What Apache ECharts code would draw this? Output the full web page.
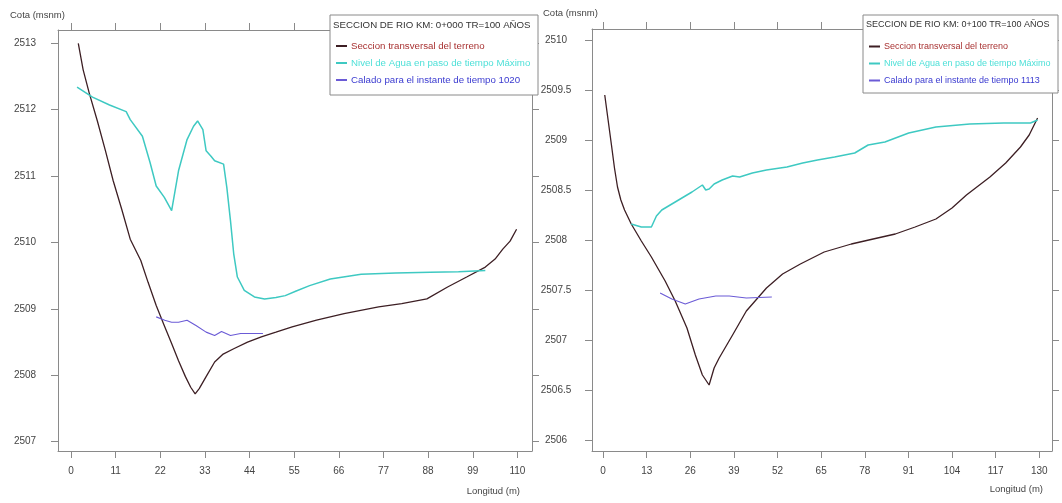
<!DOCTYPE html>
<html>
<head>
<meta charset="utf-8">
<script src="https://cdn.jsdelivr.net/npm/echarts@6/dist/echarts.min.js"></script>
<style>
  html, body { margin: 0; padding: 0; background: #ffffff; }
  #chart { width: 1062px; height: 503px; }
</style>
</head>
<body>
<div id="chart"></div>
<script>
// Tick values for both cross sections
const xTicksL = [0, 11, 22, 33, 44, 55, 66, 77, 88, 99, 110];
const yTicksL = [2507, 2508, 2509, 2510, 2511, 2512, 2513];
const xTicksR = [0, 13, 26, 39, 52, 65, 78, 91, 104, 117, 130];
const yTicksR = [2506, 2506.5, 2507, 2507.5, 2508, 2508.5, 2509, 2509.5, 2510];

// Section KM 0+000
const terrainLx = [1.8, 3.0, 4.5, 6.5, 8.5, 10.4, 12.5, 14.6, 17.2, 19.0, 21.0, 22.9, 24.8, 26.5, 28.2, 29.5, 30.6, 31.6, 33.3, 35.4, 37.5, 40.1, 43.5, 46.9, 50.5, 54.5, 60.5, 67.3, 75.8, 81.5, 87.7, 92.8, 97.5, 102.1, 104.5, 106.4, 108.2, 109.8];
const terrainLy = [2513.0, 2512.6, 2512.25, 2511.83, 2511.38, 2510.93, 2510.5, 2510.05, 2509.73, 2509.4, 2509.05, 2508.76, 2508.48, 2508.22, 2507.98, 2507.82, 2507.72, 2507.8, 2507.98, 2508.2, 2508.32, 2508.4, 2508.5, 2508.58, 2508.65, 2508.73, 2508.83, 2508.93, 2509.03, 2509.08, 2509.15, 2509.33, 2509.48, 2509.63, 2509.75, 2509.9, 2510.02, 2510.2];
const waterLx = [1.5, 5.3, 9.5, 13.6, 14.6, 17.6, 19.5, 21.0, 23.0, 24.8, 26.5, 28.6, 30.2, 31.2, 32.5, 33.3, 34.5, 35.4, 37.6, 38.4, 39.3, 40.1, 41.0, 42.7, 45.2, 47.7, 50.5, 52.8, 55.5, 58.8, 63.9, 71.5, 80.0, 88.5, 95.5, 102.1];
const waterLy = [2512.34, 2512.19, 2512.07, 2511.97, 2511.85, 2511.6, 2511.2, 2510.85, 2510.68, 2510.48, 2511.08, 2511.55, 2511.75, 2511.83, 2511.7, 2511.38, 2511.3, 2511.23, 2511.18, 2510.83, 2510.33, 2509.83, 2509.48, 2509.28, 2509.18, 2509.15, 2509.17, 2509.2, 2509.27, 2509.35, 2509.45, 2509.52, 2509.54, 2509.55, 2509.56, 2509.58];
const depthLx = [21.0, 23.1, 24.8, 26.5, 28.6, 30.8, 33.3, 35.4, 37.1, 39.3, 41.8, 44.3, 47.3];
const depthLy = [2508.88, 2508.83, 2508.8, 2508.8, 2508.83, 2508.75, 2508.65, 2508.6, 2508.66, 2508.6, 2508.63, 2508.63, 2508.63];

// Section KM 0+100
const terrainRx = [0.5, 1.5, 2.5, 3.4, 4.3, 5.3, 6.4, 8.4, 11.4, 14.4, 18.5, 21.5, 25.0, 27.5, 29.6, 31.6, 33.1, 34.6, 38.6, 42.7, 48.7, 53.5, 58.8, 65.9, 74.0, 80.5, 87.1, 93.0, 99.2, 104.0, 108.3, 115.3, 120.0, 124.4, 127.0, 129.5];
const terrainRy = [2509.45, 2509.2, 2508.95, 2508.72, 2508.53, 2508.4, 2508.3, 2508.16, 2507.99, 2507.83, 2507.59, 2507.39, 2507.12, 2506.85, 2506.65, 2506.55, 2506.72, 2506.82, 2507.05, 2507.29, 2507.52, 2507.66, 2507.76, 2507.88, 2507.96, 2508.01, 2508.06, 2508.13, 2508.21, 2508.32, 2508.45, 2508.63, 2508.77, 2508.93, 2509.05, 2509.22];
const waterRx = [8.4, 11.4, 14.4, 15.9, 17.5, 20.0, 22.5, 26.5, 29.6, 30.6, 31.6, 33.1, 35.5, 38.6, 40.7, 44.5, 48.7, 54.8, 59.5, 63.9, 69.0, 75.0, 79.0, 84.0, 91.1, 99.2, 109.3, 119.4, 127.4, 129.5];
const waterRy = [2508.16, 2508.13, 2508.13, 2508.24, 2508.3, 2508.35, 2508.4, 2508.48, 2508.55, 2508.5, 2508.51, 2508.56, 2508.6, 2508.64, 2508.63, 2508.67, 2508.7, 2508.73, 2508.77, 2508.8, 2508.83, 2508.87, 2508.95, 2508.98, 2509.07, 2509.13, 2509.16, 2509.17, 2509.17, 2509.2];
const depthRx = [17.0, 20.5, 24.5, 28.6, 33.6, 37.6, 42.7, 50.3];
const depthRy = [2507.47, 2507.41, 2507.36, 2507.41, 2507.44, 2507.44, 2507.42, 2507.43];

const NAME_TERRAIN = 'Seccion transversal del terreno';
const NAME_WATER = 'Nivel de Agua en paso de tiempo Máximo';
const NAME_DEPTH_L = 'Calado para el instante de tiempo 1020';
const NAME_DEPTH_R = 'Calado para el instante de tiempo 1113';
const TITLE_L = 'SECCION DE RIO KM: 0+000 TR=100 AÑOS';
const TITLE_R = 'SECCION DE RIO KM: 0+100 TR=100 AÑOS';

const C_TERRAIN = '#3d1f24';
const C_WATER = '#3ec9c2';
const C_DEPTH = '#6b5bd6';
const C_AXIS = '#8a8a8a';
const FONT = "'Liberation Sans', Arial, sans-serif";

const zip = (xs, ys) => xs.map((x, i) => [x, ys[i]]);
const plain = (v) => String(v);

function xAxes(gridIndex, ticks, min, max) {
  const base = {
    type: 'value', gridIndex, min, max,
    splitLine: { show: false },
    axisLine: { show: true, onZero: false, lineStyle: { color: C_AXIS, width: 1 } },
    axisTick: { show: true, inside: false, length: 7, lineStyle: { color: C_AXIS }, customValues: ticks }
  };
  return [
    Object.assign({}, base, {
      position: 'bottom',
      axisLabel: { customValues: ticks, formatter: plain, margin: 15, fontSize: 10, color: '#444', fontFamily: FONT }
    }),
    Object.assign({}, base, { position: 'top', axisLabel: { show: false } })
  ];
}

function yAxes(gridIndex, ticks, min, max, margin) {
  const base = {
    type: 'value', gridIndex, min, max,
    splitLine: { show: false },
    axisLine: { show: true, onZero: false, lineStyle: { color: C_AXIS, width: 1 } },
    axisTick: { show: true, inside: false, length: 7, lineStyle: { color: C_AXIS }, customValues: ticks }
  };
  return [
    Object.assign({}, base, {
      position: 'left',
      axisLabel: { customValues: ticks, formatter: plain, margin, align: 'center', fontSize: 10, color: '#444', fontFamily: FONT }
    }),
    Object.assign({}, base, { position: 'right', axisLabel: { show: false } })
  ];
}

function line(name, data, color, width, xi, yi) {
  return {
    name, type: 'line', data, xAxisIndex: xi, yAxisIndex: yi,
    showSymbol: false, smooth: false, animation: false,
    lineStyle: { color, width }, itemStyle: { color }
  };
}

function legend(left, top, depthName, size, gap) {
  return {
    orient: 'vertical', left, top, z: 7,
    itemWidth: 11, itemHeight: 2, itemGap: gap, icon: 'rect',
    selectedMode: false,
    textStyle: { fontSize: size, fontFamily: FONT, padding: [0, 0, 0, -1] },
    data: [
      { name: NAME_TERRAIN, textStyle: { color: '#a83232' } },
      { name: NAME_WATER, textStyle: { color: '#4fe0d8' } },
      { name: depthName, textStyle: { color: '#3a3ad0' } }
    ]
  };
}

function legendBox(x, y, w, h, title, size) {
  return [
    { type: 'rect', z: 6, shape: { x, y, width: w, height: h },
      style: { fill: '#ffffff', stroke: '#8a8a8a', lineWidth: 1 } },
    { type: 'text', z: 7, x: x + 3, y: y + 10,
      style: { text: title, fill: '#333', font: size + "px " + FONT, textVerticalAlign: 'middle' } }
  ];
}

const chart = echarts.init(document.getElementById('chart'), null, { renderer: 'canvas' });

chart.setOption({
  backgroundColor: '#ffffff',
  animation: false,
  grid: [
    { left: 58, top: 30, width: 474, height: 421 },
    { left: 592, top: 29, width: 460, height: 422 }
  ],
  xAxis: [
    ...xAxes(0, xTicksL, -3.2, 113.6),
    ...xAxes(1, xTicksR, -3.3, 133.8)
  ],
  yAxis: [
    ...yAxes(0, yTicksL, 2506.86, 2513.2, 33),
    ...yAxes(1, yTicksR, 2505.89, 2510.11, 36)
  ],
  legend: [
    legend(331, 36, NAME_DEPTH_L, 9.7, 7),
    legend(864, 37, NAME_DEPTH_R, 9, 8)
  ],
  graphic: [
    ...legendBox(330, 15, 208, 80, TITLE_L, 9.7),
    ...legendBox(863, 15, 195, 78, TITLE_R, 9),
    { type: 'text', x: 10, y: 15, style: { text: 'Cota (msnm)', fill: '#444', font: "9.5px " + FONT, textVerticalAlign: 'middle' } },
    { type: 'text', x: 543, y: 13, style: { text: 'Cota (msnm)', fill: '#444', font: "9.5px " + FONT, textVerticalAlign: 'middle' } },
    { type: 'text', x: 520, y: 491, style: { text: 'Longitud (m)', fill: '#444', font: "9.5px " + FONT, textAlign: 'right', textVerticalAlign: 'middle' } },
    { type: 'text', x: 1043, y: 489, style: { text: 'Longitud (m)', fill: '#444', font: "9.5px " + FONT, textAlign: 'right', textVerticalAlign: 'middle' } }
  ],
  series: [
    line(NAME_TERRAIN, zip(terrainLx, terrainLy), C_TERRAIN, 1.3, 0, 0),
    line(NAME_WATER, zip(waterLx, waterLy), C_WATER, 1.5, 0, 0),
    line(NAME_DEPTH_L, zip(depthLx, depthLy), C_DEPTH, 1.1, 0, 0),
    line(NAME_TERRAIN, zip(terrainRx, terrainRy), C_TERRAIN, 1.3, 2, 2),
    line(NAME_WATER, zip(waterRx, waterRy), C_WATER, 1.5, 2, 2),
    line(NAME_DEPTH_R, zip(depthRx, depthRy), C_DEPTH, 1.1, 2, 2)
  ]
});
</script>
</body>
</html>
